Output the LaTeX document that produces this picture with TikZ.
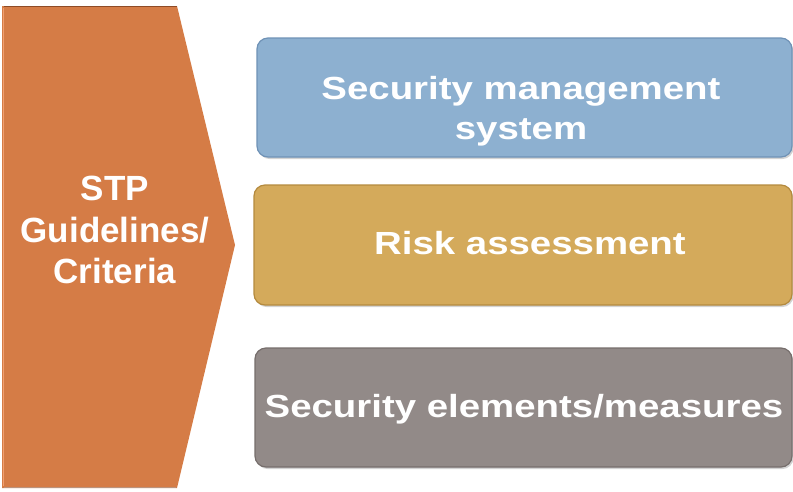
\documentclass[tikz,border=0pt]{standalone}
\usepackage{fontspec}
\setmainfont{Liberation Sans}
\usetikzlibrary{shadows}
\definecolor{orangeF}{HTML}{D57C46}
\definecolor{orangeD}{HTML}{8E4B26}
\definecolor{orangeL}{HTML}{F2A070}
\definecolor{blueF}{HTML}{8DB0D0}
\definecolor{blueD}{HTML}{6F92B6}
\definecolor{goldF}{HTML}{D4AA5B}
\definecolor{goldD}{HTML}{B48A3E}
\definecolor{grayF}{HTML}{928A88}
\definecolor{grayD}{HTML}{766E6C}
\tikzset{
  box/.style={rounded corners=11pt, line width=1.2pt, drop shadow={shadow xshift=1.5pt, shadow yshift=-2pt, opacity=0.35}},
  boxtext/.style={text=white, font=\bfseries\fontsize{32}{40}\selectfont, align=center, xscale=1.2},
  lefttext/.style={text=white, font=\bfseries\fontsize{35}{41.5}\selectfont, align=center}
}
\begin{document}
\begin{tikzpicture}[x=1pt,y=-1pt]
\useasboundingbox (0,0) rectangle (793,491);
% left arrow shape
\fill[orangeF] (2,6) -- (177,6) -- (235,245) -- (177,488) -- (2,488) -- cycle;
\draw[orangeD, line width=1.5pt] (4,6.5) -- (177,6.5);
\draw[orangeL, line width=1pt] (3,8) -- (3,486);
\draw[orangeD!60, line width=1pt] (4,487.5) -- (176,487.5);
\node[lefttext] (stp) at (115,230) {STP\\Guidelines/\\Criteria};
% right boxes
\draw[box, fill=blueF, draw=blueD] (257,38) rectangle (792,157);
\node[boxtext] (sms) at (521,111) {Security management\\system};
\draw[box, fill=goldF, draw=goldD] (254,185) rectangle (792,305);
\node[boxtext] (ra) at (530,243) {Risk assessment};
\draw[box, fill=grayF, draw=grayD] (255,348) rectangle (792,467);
\node[boxtext] (sem) at (524,409) {Security elements/measures};
\end{tikzpicture}
\end{document}
